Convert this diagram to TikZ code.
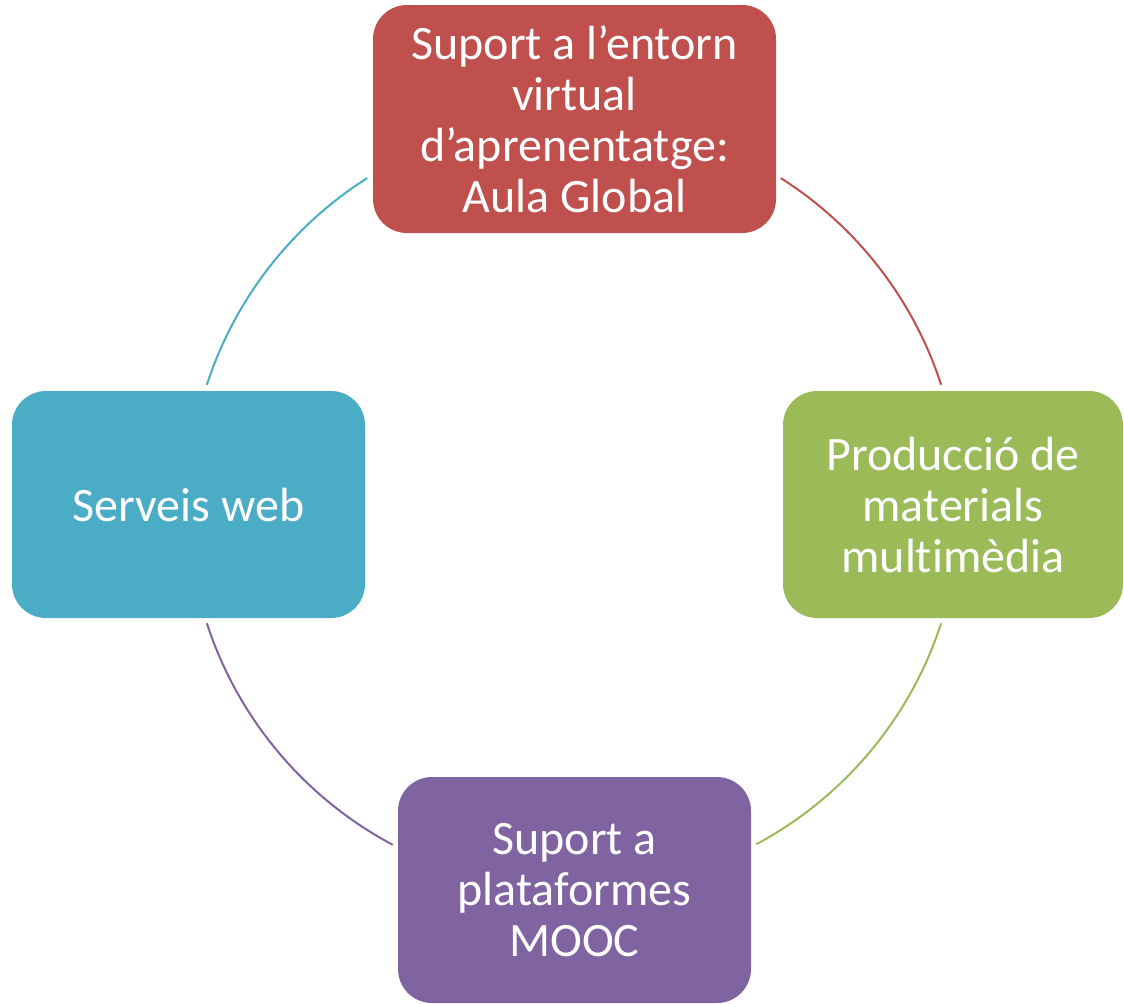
\documentclass[tikz,border=0pt]{standalone}
\usepackage{fontspec}
\setmainfont{Carlito}[Ligatures=CommonOff]
\usetikzlibrary{positioning}
\definecolor{cyc-red}{HTML}{C0504D}
\definecolor{cyc-green}{HTML}{9BBB59}
\definecolor{cyc-purple}{HTML}{8064A2}
\definecolor{cyc-teal}{HTML}{4BACC6}
\tikzset{
  cycbox/.style={rounded corners=17pt, text=white, align=center, inner sep=0pt,
    font=\fontsize{24}{25.5}\selectfont},
  cycarc/.style={line width=1pt}
}
\begin{document}
\begin{tikzpicture}[x=0.5pt, y=-0.5pt]
  \useasboundingbox (0,0) rectangle (1124,1003);
  \coordinate (cen) at (574,504);
  \node[cycbox, fill=cyc-red, minimum width=201.5pt, minimum height=114pt] (aula) at (574.5,119) {Suport a l’entorn\\virtual\\d’aprenentatge:\\Aula Global};
  \node[cycbox, fill=cyc-green, minimum width=170pt, minimum height=113.5pt] (prod) at (953,504.5) {Producció de\\materials\\multimèdia};
  \node[cycbox, fill=cyc-purple, minimum width=176.5pt, minimum height=113pt] (mooc) at (574.5,890) {Suport a\\plataformes\\MOOC};
  \node[cycbox, fill=cyc-teal, minimum width=176.5pt, minimum height=113.5pt] (web) at (188.5,504.5) {Serveis web};
  % arcs of the cycle (y axis points down)
  \draw[cycarc, cyc-red]    ([shift={(-57.6:386)}]cen) arc[start angle=-57.6, end angle=-18, radius=386];
  \draw[cycarc, cyc-green]  ([shift={(18:386)}]cen) arc[start angle=18, end angle=61.8, radius=386];
  \draw[cycarc, cyc-purple] ([shift={(118:386)}]cen) arc[start angle=118, end angle=162, radius=386];
  \draw[cycarc, cyc-teal]   ([shift={(-162:386)}]cen) arc[start angle=-162, end angle=-122.4, radius=386];
\end{tikzpicture}
\end{document}
